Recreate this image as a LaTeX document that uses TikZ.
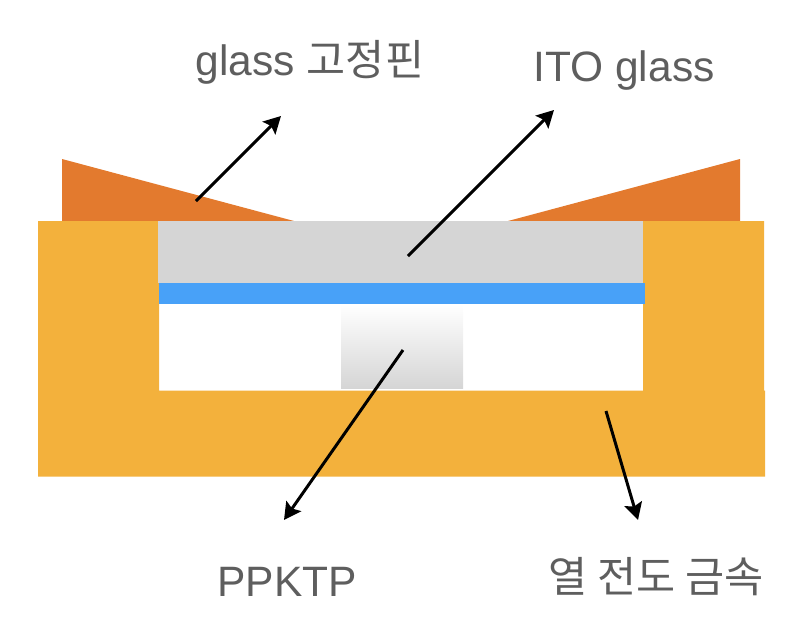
\documentclass[tikz,border=0pt]{standalone}
\usepackage{fontspec}
\setmainfont{Liberation Sans}
\newfontfamily\cjk{Noto Sans CJK KR}
\usetikzlibrary{
  arrows.meta,
}
\definecolor{metal}{HTML}{F3B13C}
\definecolor{clamp}{HTML}{E37A2E}
\definecolor{itogray}{HTML}{D5D5D5}
\definecolor{layerblue}{HTML}{48A1F8}
\definecolor{labelgray}{HTML}{5E5E5E}
\tikzset{
  pointer/.style={
    line width=3pt,
    -{Stealth[length=17pt,width=18pt,inset=3pt]},
  },
  caption/.style={
    inner sep=0pt,
    anchor=base,
    text=labelgray,
    font=\fontsize{42.5}{44}\selectfont,
  },
}

\begin{document}
\begin{tikzpicture}[x=1pt,y=-1pt]
  \useasboundingbox (0,0) rectangle (806,630);

  % Clamps
  \fill[clamp] (62,159) -- (294,221) -- (62,221) -- cycle;
  \fill[clamp] (740,159) -- (508,221) -- (740,221) -- cycle;

  % Metal holder
  \fill[metal] (38,221) -- (159,221) -- (159,390.7) -- (643,390.7) -- (643,221)
  -- (764,221) -- (764,390.7) -- (765,390.7) -- (765,476.7) -- (38,476.7) -- cycle;

  % Layers
  \shade[top color=white, bottom color=itogray] (341,304) rectangle (463,388.7);
  \fill[itogray] (158,221) rectangle (643,283);
  \fill[layerblue] (159,283) rectangle (645,303.7);

  % Labels
  \node (clamp_label) [caption] at (310,75) {glass {\cjk 고정핀}};
  \node (ito_label) [caption] at (624,81) {ITO glass};
  \node (ppktp_label) [caption] at (287,596) {PPKTP};
  \node (metal_label) [caption] at (656,592) {\cjk 열 전도 금속};

  % Arrow ends
  \coordinate (clamp_start) at (196,201);
  \coordinate (clamp_end) at (281,116);
  \coordinate (ito_start) at (408,256);
  \coordinate (ito_end) at (554,110);
  \coordinate (ppktp_start) at (403,350);
  \coordinate (ppktp_end) at (284,520);
  \coordinate (metal_start) at (606,411);
  \coordinate (metal_end) at (638,520);

  % Arrows
  \draw [pointer] (clamp_start) -- (clamp_end);
  \draw [pointer] (ito_start) -- (ito_end);
  \draw [pointer] (ppktp_start) -- (ppktp_end);
  \draw [pointer] (metal_start) -- (metal_end);

\end{tikzpicture}
\end{document}
